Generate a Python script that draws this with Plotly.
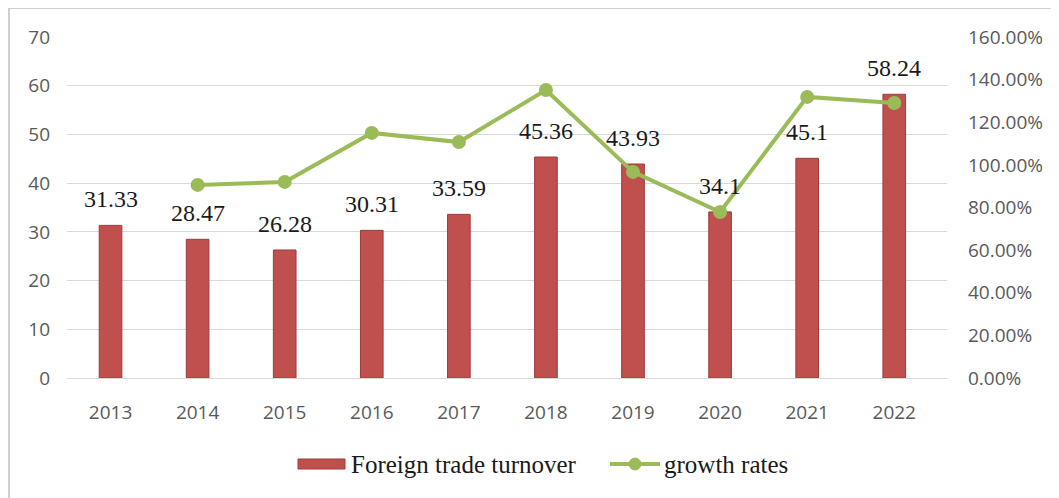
import plotly.graph_objects as go

years = ["2013", "2014", "2015", "2016", "2017", "2018", "2019", "2020", "2021", "2022"]
turnover = [31.33, 28.47, 26.28, 30.31, 33.59, 45.36, 43.93, 34.1, 45.1, 58.24]
growth_years = years[1:]
growth = [0.906, 0.920, 1.150, 1.107, 1.351, 0.967, 0.779, 1.319, 1.290]

bar_color = "#c0504d"
line_color = "#9bbb59"
tick_font = dict(family="Open Sans", size=19, color="#595959")
serif = "Liberation Serif"

# page body has an 8px margin, so work in page pixels and shift by 8
OFF = 8
W, H = 1059 - OFF, 498 - OFF
# plot area in page pixels: x 67..947, y 37..378
ml, mt = 67 - OFF, 37 - OFF
mr, mb = W - (947 - OFF), H - (378 - OFF)
pw, ph = W - ml - mr, H - mt - mb

def px_x(x):
    return (x - OFF - ml) / pw

def px_y(y):
    return (H - mb - (y - OFF)) / ph

fig = go.Figure()
fig.add_trace(go.Bar(
    x=years, y=turnover, name="Foreign trade turnover",
    marker=dict(color=bar_color, line=dict(color="#9e3b39", width=1)),
    width=0.26, showlegend=False,
))
fig.add_trace(go.Scatter(
    x=growth_years, y=growth, name="growth rates", yaxis="y2",
    mode="lines+markers",
    line=dict(color=line_color, width=4),
    marker=dict(color=line_color, size=14),
    showlegend=False,
))

# value labels above the bars (category axis uses serial positions)
for i, v in enumerate(turnover):
    fig.add_annotation(x=i, y=v, text=f"{v:g}", showarrow=False,
                       yanchor="middle", yshift=26,
                       font=dict(family=serif, size=24, color="#1a1a1a"))

shapes = [
    # outer frame (top and left edges visible)
    dict(type="rect", xref="paper", yref="paper",
         x0=px_x(9), x1=px_x(1075), y0=px_y(8), y1=px_y(520),
         line=dict(color="#d0d0d0", width=2), fillcolor="rgba(0,0,0,0)", layer="below"),
    # legend swatches
    dict(type="rect", xref="paper", yref="paper",
         x0=px_x(298), x1=px_x(345), y0=px_y(469), y1=px_y(459),
         fillcolor=bar_color, line=dict(color="#9e3b39", width=1)),
    dict(type="line", xref="paper", yref="paper",
         x0=px_x(610), x1=px_x(660), y0=px_y(464), y1=px_y(464),
         line=dict(color=line_color, width=4)),
    dict(type="circle", xref="paper", yref="paper",
         x0=px_x(629), x1=px_x(641), y0=px_y(470), y1=px_y(458),
         fillcolor=line_color, line=dict(color=line_color, width=1)),
]
for x0, label in [(349, "Foreign trade turnover"), (662, "growth rates")]:
    fig.add_annotation(xref="paper", yref="paper", x=px_x(x0), y=px_y(464),
                       text=label, showarrow=False, xanchor="left", yanchor="middle",
                       font=dict(family=serif, size=25, color="#1a1a1a"))

fig.update_layout(
    width=W, height=H,
    margin=dict(l=ml, r=mr, t=mt, b=mb),
    paper_bgcolor="white", plot_bgcolor="white",
    shapes=shapes,
    xaxis=dict(type="category", tickfont=tick_font, showgrid=False, showline=False,
               ticks="", ticklabelstandoff=21),
    yaxis=dict(range=[0, 70], dtick=10, tickfont=tick_font, gridcolor="#d9d9d9",
               gridwidth=1, zeroline=True, zerolinecolor="#d9d9d9", zerolinewidth=1,
               showline=False, ticks="", ticklabelstandoff=16),
    yaxis2=dict(range=[0, 1.6], dtick=0.2, tickformat=".2%", overlaying="y", side="right",
                tickfont=tick_font, showgrid=False, zeroline=False, showline=False,
                ticks="", ticklabelstandoff=20),
)

fig.write_html("out.html")
